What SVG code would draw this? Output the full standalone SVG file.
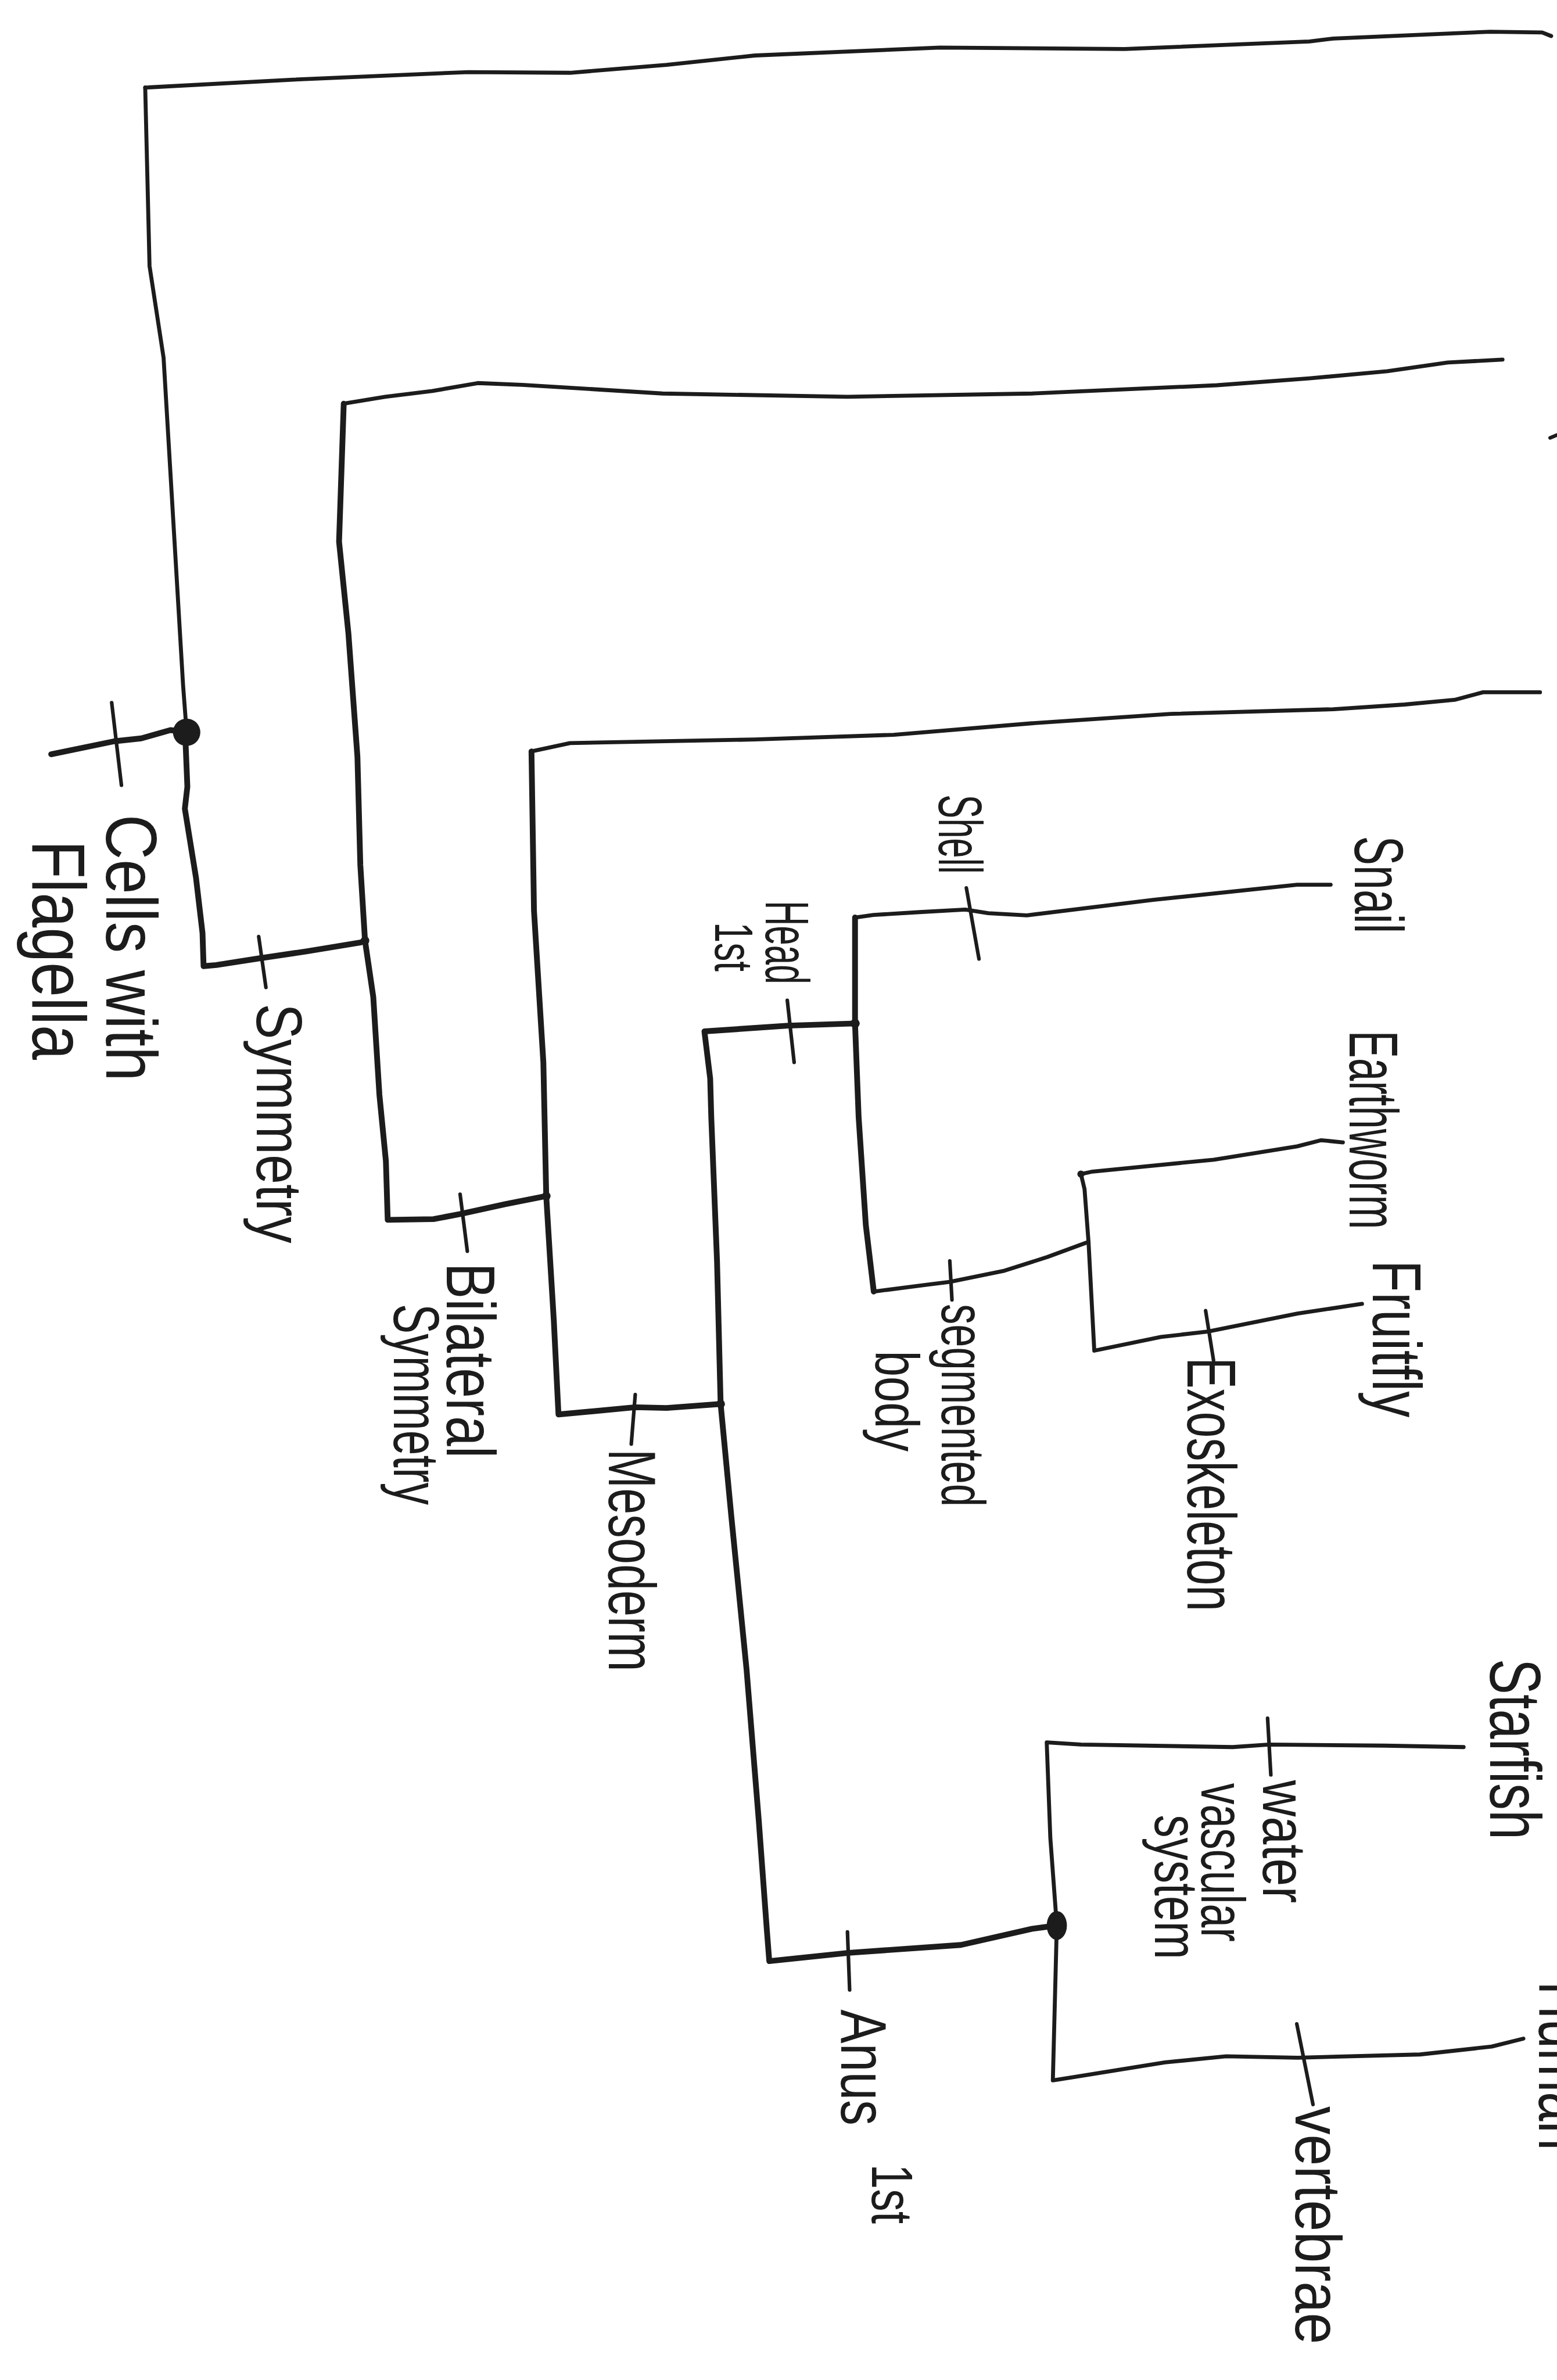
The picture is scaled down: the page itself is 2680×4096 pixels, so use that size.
<svg xmlns="http://www.w3.org/2000/svg" width="2680" height="4096" viewBox="0 0 2680 4096">
<style>
.ln{fill:none;stroke:#1c1c1c;stroke-width:11;stroke-linecap:round;stroke-linejoin:round}
.tk{fill:none;stroke:#1c1c1c;stroke-width:16;stroke-linecap:round;stroke-linejoin:round}
.tick{fill:none;stroke:#1c1c1c;stroke-width:10;stroke-linecap:round}
.dot{fill:#1c1c1c}
.lbl{font-family:"Liberation Sans","DejaVu Sans",sans-serif;fill:#1c1c1c}
</style>
<rect width="2680" height="4096" fill="#ffffff"/>
<g transform="scale(0.6202)">
<g id="connectors">
<polyline class="ln" points="403,243 813,221 1300,200 1582,202 1850,180 2095,154 2608,132 3121,136 3634,115 3700,107 4136,88 4280,90 4305,100"/>
<polyline class="ln" points="403,243 415,738 454,993 492,1631 508,1900 518,2032"/>
<polyline class="tk" points="518,2032 515,2061 520,2183 513,2244 544,2436 562,2589 565,2681 600,2678 715,2660 850,2640 1002,2615 1013,2610"/>
<polyline class="tk" points="518,2032 473,2026 392,2049 317,2057 142,2093"/>
<line class="tick" x1="310" y1="1950" x2="337" y2="2179"/>
<line class="tick" x1="718" y1="2599" x2="738" y2="2740"/>
<polyline class="ln" points="4170,998 4018,1006 3850,1030 3634,1050 3377,1069 2864,1092 2352,1101 1839,1092 1582,1076 1450,1068 1326,1063 1200,1085 1069,1101 954,1120"/>
<polyline class="tk" points="954,1120 941,1503 967,1758 992,2100 1000,2400 1013,2610 1036,2767 1053,3038 1071,3222 1076,3385 1203,3383 1277,3369 1404,3341 1500,3322 1516,3319"/>
<line class="tick" x1="1277" y1="3314" x2="1297" y2="3472"/>
<polyline class="ln" points="4274,1921 4116,1921 4037,1942 3898,1955 3700,1968 3249,1981 2864,2007 2480,2039 2095,2052 1582,2062 1475,2085"/>
<polyline class="tk" points="1475,2085 1482,2527 1508,2948 1516,3319 1537,3664 1550,3925 1763,3905 1850,3907 2000,3896"/>
<line class="tick" x1="1763" y1="3870" x2="1752" y2="4007"/>
<polyline class="tk" points="2373,2840 2188,2846 1955,2862 1971,2993 1974,3100 1990,3500 2000,3896 2030,4211 2072,4633 2106,5054 2128,5352 2135,5442 2355,5419 2667,5397 2865,5352 2933,5343"/>
<line class="tick" x1="2185" y1="2776" x2="2204" y2="2948"/>
<line class="tick" x1="2352" y1="5361" x2="2358" y2="5522"/>
<polyline class="tk" points="2373,2546 2373,2840 2383,3100 2403,3400 2425,3584"/>
<polyline class="ln" points="2373,2546 2424,2539 2552,2531 2679,2524 2743,2534 2850,2540 3201,2497 3600,2455 3693,2455"/>
<line class="tick" x1="2682" y1="2464" x2="2717" y2="2661"/>
<polyline class="ln" points="2425,3584 2571,3565 2636,3557 2788,3526 2907,3488 3021,3446"/>
<line class="tick" x1="2636" y1="3499" x2="2642" y2="3607"/>
<polyline class="ln" points="3727,3170 3667,3164 3600,3181 3369,3218 3032,3251 3000,3258 3010,3300 3021,3446 3037,3748 3222,3710 3352,3695 3601,3645 3780,3618"/>
<line class="tick" x1="3346" y1="3637" x2="3368" y2="3775"/>
<polyline class="ln" points="4062,4848 3843,4844 3522,4841 3421,4848 3000,4841 2905,4835 2915,5100 2933,5343 2922,5773 2978,5764 3233,5723 3403,5706 3601,5710 3941,5701 4140,5679 4228,5657"/>
<line class="tick" x1="3518" y1="4768" x2="3527" y2="4925"/>
<line class="tick" x1="3599" y1="5616" x2="3644" y2="5840"/>
<line class="tick" x1="4302" y1="1215" x2="4321" y2="1207"/>
<circle class="dot" cx="518" cy="2032" r="38"/>
<ellipse class="dot" cx="2933" cy="5343" rx="28" ry="40"/>
<circle class="dot" cx="1013" cy="2610" r="12"/>
<circle class="dot" cx="1516" cy="3319" r="12"/>
<circle class="dot" cx="2000" cy="3896" r="12"/>
<circle class="dot" cx="2373" cy="2840" r="13"/>
<circle class="dot" cx="3000" cy="3258" r="10"/>
</g>
<g id="label-cells">
<text class="lbl" transform="translate(295,2260) rotate(90)" font-size="200" textLength="740" lengthAdjust="spacingAndGlyphs">Cells with</text>
<text class="lbl" transform="translate(90,2332) rotate(90)" font-size="210" textLength="609" lengthAdjust="spacingAndGlyphs">Flagella</text>
</g>
<g id="label-symmetry">
<text class="lbl" transform="translate(712,2785) rotate(90)" font-size="180" textLength="665" lengthAdjust="spacingAndGlyphs">Symmetry</text>
</g>
<g id="label-bilateral">
<text class="lbl" transform="translate(1240,3504) rotate(90)" font-size="190" textLength="542" lengthAdjust="spacingAndGlyphs">Bilateral</text>
<text class="lbl" transform="translate(1094,3618) rotate(90)" font-size="180" textLength="558" lengthAdjust="spacingAndGlyphs">Symmetry</text>
</g>
<g id="label-mesoderm">
<text class="lbl" transform="translate(1690,4021) rotate(90)" font-size="185" textLength="617" lengthAdjust="spacingAndGlyphs">Mesoderm</text>
</g>
<g id="label-shell">
<text class="lbl" transform="translate(2605,2205) rotate(90)" font-size="170" textLength="220" lengthAdjust="spacingAndGlyphs">Shell</text>
</g>
<g id="label-head">
<text class="lbl" transform="translate(2125,2499) rotate(90)" font-size="170" textLength="232" lengthAdjust="spacingAndGlyphs">Head</text>
<text class="lbl" transform="translate(1985,2559) rotate(90)" font-size="150" textLength="137" lengthAdjust="spacingAndGlyphs">1st</text>
</g>
<g id="node-snail">
<text class="lbl" transform="translate(3760,2320) rotate(90)" font-size="190" textLength="270" lengthAdjust="spacingAndGlyphs">Snail</text>
</g>
<g id="node-earthworm">
<text class="lbl" transform="translate(3745,2860) rotate(90)" font-size="190" textLength="551" lengthAdjust="spacingAndGlyphs">Earthworm</text>
</g>
<g id="node-fruitfly">
<text class="lbl" transform="translate(3810,3497) rotate(90)" font-size="190" textLength="436" lengthAdjust="spacingAndGlyphs">Fruitfly</text>
</g>
<g id="label-segmented">
<text class="lbl" transform="translate(2614,3618) rotate(90)" font-size="170" textLength="563" lengthAdjust="spacingAndGlyphs">segmented</text>
<text class="lbl" transform="translate(2430,3748) rotate(90)" font-size="170" textLength="280" lengthAdjust="spacingAndGlyphs">body</text>
</g>
<g id="label-exoskeleton">
<text class="lbl" transform="translate(3295,3767) rotate(90)" font-size="190" textLength="704" lengthAdjust="spacingAndGlyphs">Exoskeleton</text>
</g>
<g id="node-starfish">
<text class="lbl" transform="translate(4135,4603) rotate(90)" font-size="200" textLength="502" lengthAdjust="spacingAndGlyphs">Starfish</text>
</g>
<g id="label-water">
<text class="lbl" transform="translate(3505,4940) rotate(90)" font-size="170" textLength="341" lengthAdjust="spacingAndGlyphs">water</text>
<text class="lbl" transform="translate(3335,4948) rotate(90)" font-size="170" textLength="440" lengthAdjust="spacingAndGlyphs">vascular</text>
<text class="lbl" transform="translate(3205,5036) rotate(90)" font-size="170" textLength="401" lengthAdjust="spacingAndGlyphs">system</text>
</g>
<g id="label-anus">
<text class="lbl" transform="translate(2335,5576) rotate(90)" font-size="180" textLength="322" lengthAdjust="spacingAndGlyphs">Anus</text>
<text class="lbl" transform="translate(2420,6005) rotate(90)" font-size="160" textLength="166" lengthAdjust="spacingAndGlyphs">1st</text>
</g>
<g id="label-vertebrae">
<text class="lbl" transform="translate(3595,5845) rotate(90)" font-size="180" textLength="660" lengthAdjust="spacingAndGlyphs">vertebrae</text>
</g>
<g id="node-human">
<text class="lbl" transform="translate(4272,5498) rotate(90)" font-size="200" textLength="469" lengthAdjust="spacingAndGlyphs">Human</text>
</g>
</g>
</svg>
